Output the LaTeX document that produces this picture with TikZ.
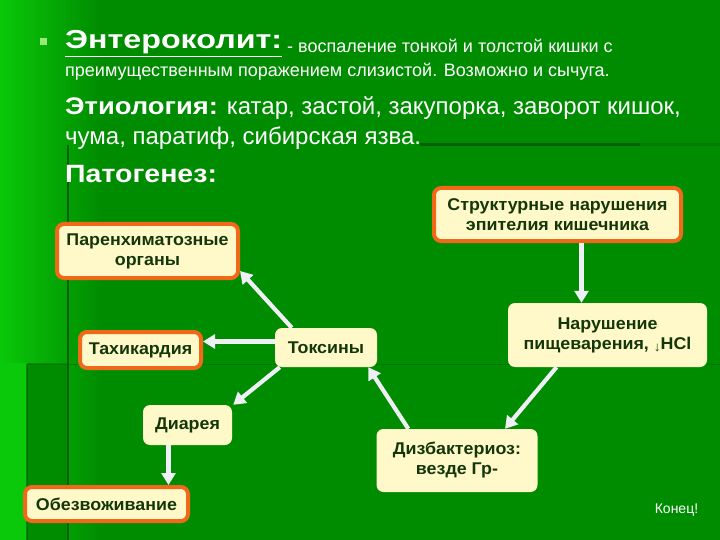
\documentclass[tikz,border=0pt]{standalone}
\usepackage{fontspec}
\setmainfont{Liberation Sans}
\newfontfamily\titleface[FakeStretch=1.24]{Liberation Sans}
\newfontfamily\wideface[FakeStretch=1.14]{Liberation Sans}
\newfontfamily\boxface[FakeStretch=1.05]{Liberation Sans}
\usepackage{tikz}
\usetikzlibrary{arrows.meta,positioning}

\definecolor{bgmain}{RGB}{0,140,0}
\definecolor{bgleft}{RGB}{10,200,10}
\definecolor{bgline}{RGB}{0,95,0}
\definecolor{boxfill}{RGB}{255,248,200}
\definecolor{boxedge}{RGB}{240,105,25}
\definecolor{boxtext}{RGB}{20,55,10}
\definecolor{arrowwhite}{RGB}{238,240,245}
\definecolor{bullet}{RGB}{150,235,120}

\begin{document}
\begin{tikzpicture}[x=1pt,y=-1pt,
  box/.style={fill=boxfill, rounded corners=7pt, text=boxtext, align=center,
    font=\fontsize{17}{20}\boxface\bfseries, inner sep=2pt},
  hot/.style={box, draw=boxedge, line width=4pt},
  flow/.style={draw=arrowwhite, line width=4.2pt, -{Triangle[length=12pt,width=14pt]}},
  head/.style={anchor=base west, inner sep=0pt, text=white}]
\useasboundingbox (0,0) rectangle (720,540);
% background
\fill[bgmain] (0,0) rectangle (720,540);
\shade[left color=bgleft, right color=bgmain] (0,0) rectangle (100,540);
\fill[bgleft] (0,363) rectangle (27,540);
\fill[bgmain] (27,363) rectangle (68,540);
\draw[bgline, line width=2.5pt] (68,145) -- (68,540);
\draw[bgline, line width=1pt, opacity=0.45] (27,364) -- (720,364);
\draw[bgline, line width=1.2pt, opacity=0.6] (27,364) -- (27,540);
\draw[bgline, line width=3pt] (420,145) -- (640,145);
\draw[bgline, line width=3pt, opacity=0.35] (640,145) -- (720,145);

% header
\fill[bullet] (40,38) rectangle (47,45);
\node[head, font=\fontsize{26}{30}\titleface\bfseries] (ttl) at (65,49) {\underline{Энтероколит:}};
\node[head, font=\fontsize{18}{22}\selectfont] (def1) at (287,53) {- воспаление тонкой и толстой кишки с};
\node[head, font=\fontsize{18}{22}\selectfont] (def2) at (65,77) {преимущественным поражением слизистой. Возможно и сычуга.};
\node[head, font=\fontsize{24}{28}\selectfont] (etio1) at (65,115)
  {{\wideface\bfseries Этиология:} катар, застой, закупорка, заворот кишок,};
\node[head, font=\fontsize{24}{28}\selectfont] (etio2) at (65,145) {чума, паратиф, сибирская язва.};
\node[head, font=\fontsize{25}{29}\wideface\bfseries] (patho) at (65,183) {Патогенез:};

% boxes
\node[hot, minimum width=247pt, minimum height=53pt] (struct) at (557.5,214.5)
  {Структурные нарушения\\эпителия кишечника};
\node[hot, minimum width=181pt, minimum height=54pt] (paren) at (147.5,251)
  {Паренхиматозные\\органы};
\node[hot, minimum width=121pt, minimum height=36pt] (tachy) at (140.5,350) {Тахикардия};
\node[box, minimum width=102pt, minimum height=39pt] (toxin) at (326,347.5) {Токсины};
\node[box, minimum width=199pt, minimum height=64pt] (digest) at (607.5,335)
  {Нарушение\\пищеварения, {\mdseries\fontsize{13}{14}\selectfont\raisebox{-2pt}{↓}}HCl};
\node[box, minimum width=89pt, minimum height=40pt] (diarr) at (187.5,425) {Диарея};
\node[box, minimum width=161pt, minimum height=63pt] (dysb) at (457,460.5)
  {Дизбактериоз:\\везде Гр-};
\node[hot, minimum width=163pt, minimum height=34pt] (dehyd) at (106.5,504) {Обезвоживание};
\node[text=white, font=\fontsize{14}{16}\selectfont] (fin) at (676.5,510) {Конец!};

% arrows
\draw[flow] ([xshift=24pt]struct.south) -- ([xshift=24pt]struct.south |- digest.north);
\draw[flow] ([xshift=-51pt]digest.south) -- ([xshift=48pt]dysb.north);
\draw[flow] ([xshift=32pt]dysb.north west) -- ([xshift=-9pt]toxin.south east);
\draw[flow] ([xshift=17pt]toxin.north west) -- ([yshift=9pt]paren.south east);
\draw[flow] ([yshift=6pt]toxin.west) -- ([yshift=6pt]toxin.west -| tachy.east);
\draw[flow] ([xshift=5pt]toxin.south west) -- ([xshift=1pt]diarr.north east);
\draw[flow] ([xshift=-19pt]diarr.south) -- ([xshift=-19pt]diarr.south |- dehyd.north);
\end{tikzpicture}
\end{document}
